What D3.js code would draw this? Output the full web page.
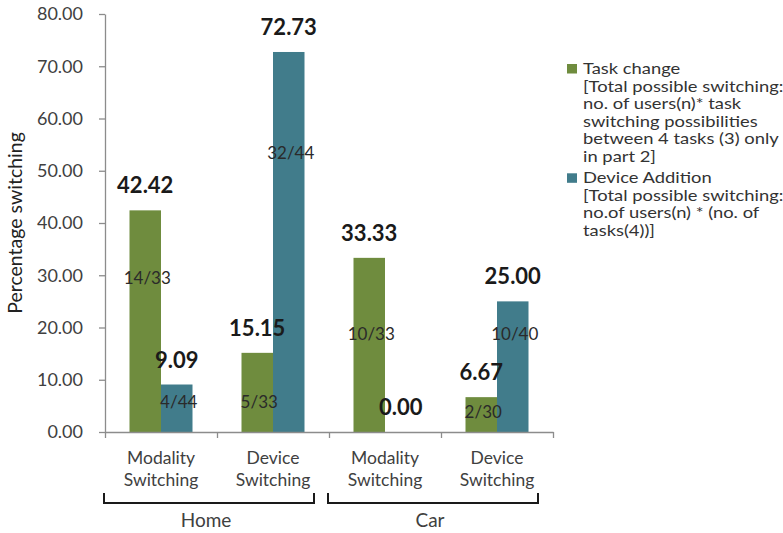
<!DOCTYPE html>
<html>
<head>
<meta charset="utf-8">
<script src="https://cdn.jsdelivr.net/npm/d3@7"></script>
<style>
  html, body { margin: 0; padding: 0; background: #ffffff; }
  svg { display: block; font-family: Lato, "Open Sans", sans-serif; }
</style>
</head>
<body>
<svg id="chart" width="783" height="533"></svg>
<script>
// ---- data ----
const groups = ["Home", "Car"];
const categories = ["Modality Switching", "Device Switching", "Modality Switching", "Device Switching"];
const categoryGroup = ["Home", "Home", "Car", "Car"];
const seriesNames = ["Task change", "Device Addition"];
const taskChange = [42.42, 15.15, 33.33, 6.67];
const deviceAddition = [9.09, 72.73, 0.00, 25.00];
const taskChangeFractions = ["14/33", "5/33", "10/33", "2/30"];
const deviceAdditionFractions = ["4/44", "32/44", "", "10/40"];
// value (in % units) at which each fraction label sits
const taskChangeFractionAt = [29.4, 5.7, 18.7, 3.9];
const deviceAdditionFractionAt = [5.7, 53.4, 0, 18.7];
const yTicks = [0, 10, 20, 30, 40, 50, 60, 70, 80];
const yTitle = "Percentage switching";
const legendLines = [
  ["Task change", "[Total possible switching:", "no. of users(n)* task", "switching possibilities", "between 4 tasks (3) only", "in part 2]"],
  ["Device Addition", "[Total possible switching:", "no.of users(n) * (no. of", "tasks(4))]"]
];

// ---- styles ----
const colors = ["#6F8C3E", "#417C8B"];
const axisColor = "#8c8c8c";
const textColor = "#404040";

const svg = d3.select("#chart");
const plot = { left: 105, right: 553, top: 14, bottom: 432 };

const y = d3.scaleLinear().domain([0, 80]).range([plot.bottom, plot.top]);
const idx = categories.map((d, i) => i);
const x0 = d3.scaleBand().domain(idx).range([plot.left, plot.right])
  .paddingInner(0.4375).paddingOuter(0.21875);
const x1 = d3.scaleBand().domain([0, 1]).range([0, x0.bandwidth()]);
const xb = d3.scaleLinear().domain([0, categories.length]).range([plot.left, plot.right]);

// y axis
const yAxis = svg.append("g")
  .attr("transform", `translate(${plot.left},0)`)
  .call(d3.axisLeft(y).tickValues(yTicks).tickFormat(d3.format(".2f")).tickSize(6).tickSizeOuter(0).tickPadding(16));
yAxis.select(".domain").attr("stroke", axisColor).attr("stroke-width", 1.3);
yAxis.selectAll(".tick line").attr("stroke", axisColor).attr("stroke-width", 1.3);
yAxis.selectAll(".tick text").attr("fill", textColor).style("font-size", "18px").style("font-family", "Lato, sans-serif");

// y title
svg.append("text")
  .attr("transform", `translate(22,223) rotate(-90)`)
  .attr("text-anchor", "middle")
  .attr("fill", "#222")
  .style("font-size", "19.5px")
  .text(yTitle);

// bars
const series = [taskChange, deviceAddition];
series.forEach((vals, s) => {
  svg.append("g").selectAll("rect")
    .data(vals)
    .join("rect")
    .attr("x", (d, i) => x0(i) + x1(s))
    .attr("width", x1.bandwidth())
    .attr("y", d => y(d))
    .attr("height", d => y(0) - y(d))
    .attr("fill", colors[s]);
});

// x axis (boundary ticks)
const xAxis = svg.append("g")
  .attr("transform", `translate(0,${plot.bottom})`)
  .call(d3.axisBottom(xb).tickValues(d3.range(categories.length + 1)).tickFormat("").tickSize(6).tickSizeOuter(0));
xAxis.select(".domain").attr("stroke", axisColor).attr("stroke-width", 1.3);
xAxis.selectAll(".tick line").attr("stroke", axisColor).attr("stroke-width", 1.3);

// value labels
series.forEach((vals, s) => {
  svg.append("g").selectAll("text")
    .data(vals)
    .join("text")
    .attr("x", (d, i) => x0(i) + x1(s) + x1.bandwidth() / 2)
    .attr("y", d => y(d) - 17)
    .attr("text-anchor", "middle")
    .attr("fill", "#1a1a1a")
    .style("font-size", "22px")
    .style("font-weight", "bold")
    .text(d => d3.format(".2f")(d));
});

// fraction labels
const fracs = [taskChangeFractions, deviceAdditionFractions];
const fracAt = [taskChangeFractionAt, deviceAdditionFractionAt];
fracs.forEach((labels, s) => {
  svg.append("g").selectAll("text")
    .data(labels)
    .join("text")
    .attr("x", (d, i) => x0(i) + x1(s) + x1.bandwidth() / 2 + 2)
    .attr("y", (d, i) => y(fracAt[s][i]))
    .attr("dy", "0.35em")
    .attr("text-anchor", "middle")
    .attr("fill", "#2a2a2a")
    .style("font-size", "17px")
    .text(d => d);
});

// category labels
const catG = svg.append("g").selectAll("text")
  .data(categories)
  .join("text")
  .attr("text-anchor", "middle")
  .attr("fill", textColor)
  .style("font-size", "17.5px");
catG.each(function (d, i) {
  const words = d.split(" ");
  const t = d3.select(this);
  words.forEach((w, k) => {
    t.append("tspan")
      .attr("x", x0(i) + x0.bandwidth() / 2)
      .attr("y", 464 + k * 22)
      .text(w);
  });
});

// group brackets and labels
groups.forEach(g => {
  const members = idx.filter(i => categoryGroup[i] === g);
  const xs = xb(d3.min(members)) - 1;
  const xe = xb(d3.max(members) + 1) - 15;
  svg.append("path")
    .attr("d", `M${xs},493V503H${xe}V493`)
    .attr("fill", "none")
    .attr("stroke", "#1a1a1a")
    .attr("stroke-width", 2);
  svg.append("text")
    .attr("x", (xs + xe) / 2 - 3)
    .attr("y", 527)
    .attr("text-anchor", "middle")
    .attr("fill", textColor)
    .style("font-size", "19px")
    .text(g);
});

// legend
const legendX = 567;
const lineH = 17.6;
let ly = 68.5;
legendLines.forEach((lines, s) => {
  svg.append("rect")
    .attr("x", legendX)
    .attr("y", ly - 4.5)
    .attr("width", 10)
    .attr("height", 9.5)
    .attr("fill", colors[s]);
  const t = svg.append("text")
    .attr("transform", `translate(${legendX + 16},0) scale(1.185,1)`)
    .attr("fill", "#333")
    .style("font-size", "15.5px");
  lines.forEach((ln, k) => {
    t.append("tspan")
      .attr("x", 0)
      .attr("y", ly + k * lineH)
      .attr("dy", "0.35em")
      .text(ln);
  });
  ly += lines.length * lineH + 3.7;
});
</script>
</body>
</html>
